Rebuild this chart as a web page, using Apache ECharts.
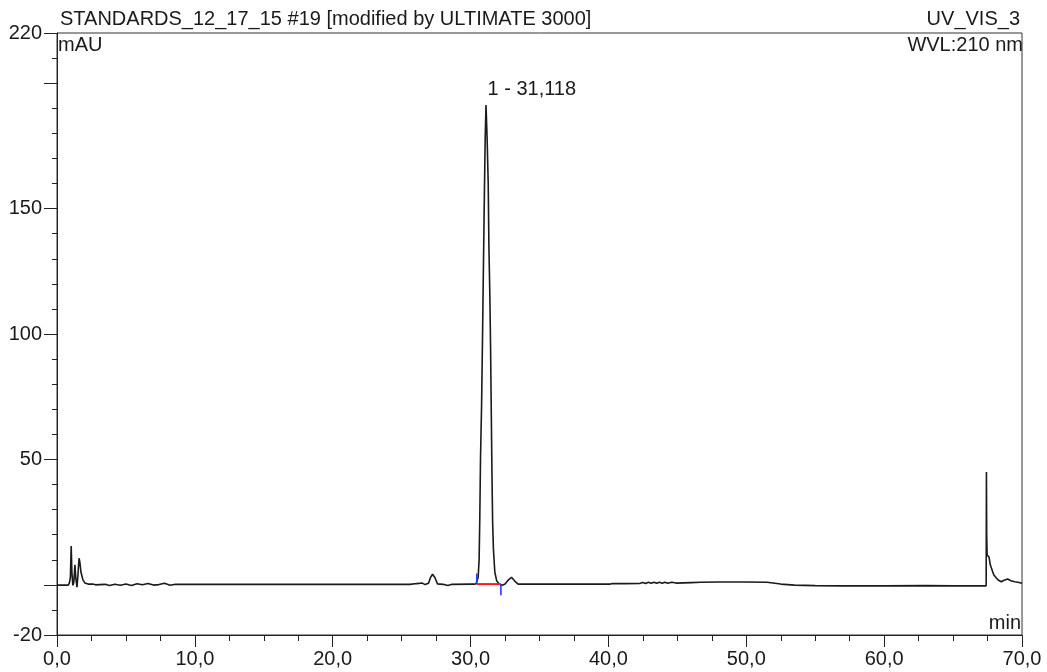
<!DOCTYPE html>
<html>
<head>
<meta charset="utf-8">
<title>STANDARDS_12_17_15 #19</title>
<script src="https://cdn.jsdelivr.net/npm/echarts@6/dist/echarts.min.js"></script>
<style>
  html, body { margin: 0; padding: 0; background: #fff; }
  #chart { width: 1047px; height: 672px; }
</style>
</head>
<body>
<div id="chart"></div>
<script>
// retention time (min) and signal (mAU)
var times = [
  0, 0.5, 0.82, 0.9, 0.97, 1.03, 1.08, 1.15, 1.22, 1.30, 1.36, 1.45, 1.52, 1.60, 1.66, 1.74, 1.88, 2.03, 2.25,
  2.6, 2.8, 3.1, 3.5, 3.8, 4.2, 4.6, 5.0, 5.4, 5.8, 6.2, 6.6, 7.0, 7.4, 7.8, 8.2, 8.6,
  11.7, 11.75, 11.8, 24.2, 24.27, 24.35, 25.6, 25.72, 26.1, 26.18, 26.5, 26.7, 26.95, 27.1, 27.24, 27.4, 27.6,
  28.0, 28.35, 28.65, 30.0, 30.07, 30.2, 30.4,
  30.55, 30.62, 30.67, 30.72, 30.80, 30.87, 30.94, 31.00, 31.06, 31.12, 31.20, 31.28, 31.33, 31.40, 31.45,
  31.50, 31.55, 31.60, 31.66, 31.76, 31.90, 32.1,
  32.3, 32.5, 32.75, 32.97, 33.2, 33.45, 35.6, 35.65, 35.7, 40.15, 40.2, 40.3, 41.2, 41.25, 41.3,
  42.3, 42.5, 42.7, 42.9, 43.1, 43.3, 43.5, 43.7, 43.9, 44.1, 44.3, 44.6, 44.9, 46.0, 46.7, 46.75, 46.8,
  48, 50, 51.5, 52.5, 53.5, 55, 57, 60, 63, 65, 67.4,
  67.42, 67.44, 67.47, 67.55, 67.61, 67.7, 67.78, 67.95, 68.14, 68.3, 68.5, 68.7, 68.96, 69.2, 69.47, 69.7, 70
];
var mAU = [
  -0.1, -0.1, -0.1, 0.8, 3, 15.5, 5, -0.2, 1, 8, 3, -0.9, 4, 10.6, 9, 5, 2, 0.7, 0.3,
  0.3, 0, 0.1, 0.2, -0.3, 0.2, -0.2, 0.3, -0.3, 0.4, 0, 0.5, -0.1, 0.1, 0.6, -0.2, 0.2,
  0.2, 0.7, 0.2, 0.2, 0.7, 0.2, 0.2, 0.5, 0.5, 0.8, 0.7, 0.1, 0.6, 3, 4.2, 3, 0.4,
  0.2, -0.3, 0.2, 0.3, -0.3, 0.3, 0.4,
  3, 10, 27, 50, 72, 100, 130, 155, 178, 191.3, 178, 160, 135, 115, 95,
  70, 45, 25, 14, 5, 1.5, 0.2,
  -0.2, 0.3, 2, 3.0, 1.5, 0.3, 0.3, 0.7, 0.3, 0.3, -0.2, 0.5, 0.5, 0, 0.6,
  0.6, 0.9, 0.5, 1, 0.6, 1, 0.6, 1, 0.6, 1, 0.6, 1, 0.7, 0.9, 1, 0.5, 1,
  1.1, 1.1, 1.0, 0.3, -0.1, -0.3, -0.4, -0.4, -0.3, -0.4, -0.4,
  45, 20, 12, 11.5, 11, 8, 6.7, 4, 2.7, 1.8, 1.2, 1.8, 2.3, 1.6, 1.2, 1.0, 0.6
];

// integration of peak 1
var peakName = '1 - 31,118';
var peakApex = [31.118, 191.3];
var baseStart = [30.45, 0.3];
var baseEnd = [32.2, 0.3];
var startMarker = [[30.45, 0.3], [30.45, 4.5]];
var endMarker = [[32.2, 0.3], [32.2, -4.2]];

var xLabels = [0, 10, 20, 30, 40, 50, 60, 70];
var yLabels = [-20, 50, 100, 150, 220];
var yMajorTicks = [-20, 0, 50, 100, 150, 200, 220];

var trace = times.map(function (t, i) { return [t, mAU[i]]; });

var font = 'Arial, "Liberation Sans", sans-serif';
var ink = '#1a1a1a';

var chart = echarts.init(document.getElementById('chart'));
var option = {
  animation: false,
  backgroundColor: '#fff',
  grid: {
    left: 57, right: 25, top: 33, bottom: 37,
    show: true, borderColor: '#333', borderWidth: 1
  },
  xAxis: {
    type: 'value',
    position: 'bottom',
    min: 0, max: 70, interval: 10,
    axisLine: { onZero: false, lineStyle: { color: '#222', width: 1 } },
    axisTick: { inside: false, length: 12, lineStyle: { color: '#222' } },
    minorTick: { show: true, splitNumber: 4, length: 6, lineStyle: { color: '#222' } },
    splitLine: { show: false },
    axisLabel: {
      customValues: xLabels,
      margin: 14,
      color: ink, fontSize: 20, fontFamily: font,
      formatter: function (v) { return v.toFixed(1).replace('.', ','); }
    }
  },
  yAxis: [{
    type: 'value',
    min: -20, max: 220, interval: 10,
    axisLine: { show: true, onZero: false, lineStyle: { color: '#222', width: 1 } },
    axisTick: { show: true, inside: false, length: 5, lineStyle: { color: '#222' } },
    splitLine: { show: false },
    axisLabel: {
      customValues: yLabels,
      margin: 15,
      color: ink, fontSize: 20, fontFamily: font
    }
  }, {
    type: 'value',
    position: 'left',
    min: -20, max: 220,
    axisLine: { show: false, onZero: false },
    axisTick: { show: true, inside: false, length: 13, customValues: yMajorTicks, lineStyle: { color: '#222' } },
    axisLabel: { show: false },
    splitLine: { show: false }
  }],
  series: [{
    name: 'UV_VIS_3',
    type: 'line',
    data: trace,
    showSymbol: false,
    lineStyle: { color: ink, width: 1.6 },
    markPoint: {
      symbol: 'circle',
      symbolSize: 1,
      itemStyle: { color: 'rgba(0,0,0,0)' },
      data: [{ coord: peakApex }],
      label: {
        show: true,
        formatter: peakName,
        position: [2, -25],
        align: 'left',
        verticalAlign: 'top',
        color: ink, fontSize: 20, fontFamily: font
      }
    },
    z: 3
  }, {
    name: 'baseline',
    type: 'line',
    data: [baseStart, baseEnd],
    showSymbol: false,
    lineStyle: { color: '#ff1a1a', width: 2 },
    z: 4
  }, {
    name: 'start',
    type: 'line',
    data: startMarker,
    showSymbol: false,
    lineStyle: { color: '#1f3cff', width: 1.6 },
    z: 5
  }, {
    name: 'end',
    type: 'line',
    data: endMarker,
    showSymbol: false,
    lineStyle: { color: '#1f3cff', width: 1.6 },
    z: 5
  }],
  graphic: [
    { type: 'text', left: 60, top: 9,
      style: { text: 'STANDARDS_12_17_15 #19 [modified by ULTIMATE 3000]', fill: ink, font: '20px ' + font } },
    { type: 'text', right: 27, top: 9,
      style: { text: 'UV_VIS_3', fill: ink, font: '20px ' + font } },
    { type: 'text', left: 58, top: 35,
      style: { text: 'mAU', fill: ink, font: '20px ' + font } },
    { type: 'text', right: 24, top: 35,
      style: { text: 'WVL:210 nm', fill: ink, font: '20px ' + font } },
    { type: 'text', right: 26, top: 613,
      style: { text: 'min', fill: ink, font: '20px ' + font } }
  ]
};
chart.setOption(option);
</script>
</body>
</html>
